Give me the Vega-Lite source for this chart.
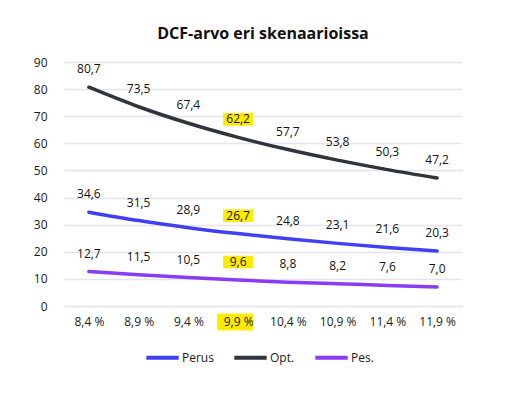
{
  "$schema": "https://vega.github.io/schema/vega-lite/v6.json",
  "autosize": {"type": "none"},
  "padding": {"left": 64, "top": 62, "right": 56, "bottom": 90},
  "width": 398,
  "height": 244,
  "background": "white",
  "config": {
    "font": "Open Sans",
    "locale": {"number": {"decimal": ",", "thousands": " ", "grouping": [3], "currency": ["", " €"]}},
    "view": {"stroke": null},
    "axis": {"labelFont": "Open Sans", "labelFontSize": 12, "labelColor": "#1a1a1a"}
  },
  "title": {
    "text": "DCF-arvo eri skenaarioissa",
    "font": "Open Sans",
    "fontSize": 16,
    "fontWeight": "bold",
    "color": "#111111",
    "anchor": "middle",
    "offset": 14
  },
  "data": {
    "values": [
      {"rate": "8,4 %", "scenario": "Perus", "value": 34.6},
      {"rate": "8,9 %", "scenario": "Perus", "value": 31.5},
      {"rate": "9,4 %", "scenario": "Perus", "value": 28.9},
      {"rate": "9,9 %", "scenario": "Perus", "value": 26.7},
      {"rate": "10,4 %", "scenario": "Perus", "value": 24.8},
      {"rate": "10,9 %", "scenario": "Perus", "value": 23.1},
      {"rate": "11,4 %", "scenario": "Perus", "value": 21.6},
      {"rate": "11,9 %", "scenario": "Perus", "value": 20.3},
      {"rate": "8,4 %", "scenario": "Opt.", "value": 80.7},
      {"rate": "8,9 %", "scenario": "Opt.", "value": 73.5},
      {"rate": "9,4 %", "scenario": "Opt.", "value": 67.4},
      {"rate": "9,9 %", "scenario": "Opt.", "value": 62.2},
      {"rate": "10,4 %", "scenario": "Opt.", "value": 57.7},
      {"rate": "10,9 %", "scenario": "Opt.", "value": 53.8},
      {"rate": "11,4 %", "scenario": "Opt.", "value": 50.3},
      {"rate": "11,9 %", "scenario": "Opt.", "value": 47.2},
      {"rate": "8,4 %", "scenario": "Pes.", "value": 12.7},
      {"rate": "8,9 %", "scenario": "Pes.", "value": 11.5},
      {"rate": "9,4 %", "scenario": "Pes.", "value": 10.5},
      {"rate": "9,9 %", "scenario": "Pes.", "value": 9.6},
      {"rate": "10,4 %", "scenario": "Pes.", "value": 8.8},
      {"rate": "10,9 %", "scenario": "Pes.", "value": 8.2},
      {"rate": "11,4 %", "scenario": "Pes.", "value": 7.6},
      {"rate": "11,9 %", "scenario": "Pes.", "value": 7.0}
    ]
  },
  "encoding": {
    "x": {
      "field": "rate",
      "type": "ordinal",
      "sort": null,
      "scale": {"type": "point", "padding": 0.5},
      "axis": {"title": null, "labelAngle": 0, "ticks": false, "domain": false, "labelPadding": 10, "zindex": 1}
    },
    "y": {
      "field": "value",
      "type": "quantitative",
      "scale": {"domain": [0, 90]},
      "axis": {"title": null, "values": [0,10,20,30,40,50,60,70,80,90], "ticks": false, "domain": false, "labelPadding": 17, "gridColor": "#e4e4ea", "gridWidth": 1.5}
    }
  },
  "layer": [
    {
      "mark": {"type": "line", "interpolate": "monotone", "strokeWidth": 3.5, "strokeCap": "round"},
      "encoding": {
        "color": {
          "field": "scenario",
          "type": "nominal",
          "scale": {"domain": ["Perus", "Opt.", "Pes."], "range": ["#4040f2", "#30353d", "#8a3cf2"]},
          "legend": {
            "title": null,
            "orient": "none",
            "legendX": 80,
            "legendY": 277,
            "direction": "horizontal",
            "symbolType": "stroke",
            "symbolSize": 1050,
            "symbolStrokeWidth": 4,
            "labelFont": "Open Sans",
            "labelFontSize": 12,
            "labelColor": "#1a1a1a",
            "labelOffset": 1,
            "columnPadding": 12
          }
        }
      }
    },
    {
      "transform": [{"filter": "datum.rate == '9,9 %'"}],
      "mark": {"type": "point", "shape": "M-1,-0.42H1V0.42H-1Z", "filled": true, "color": "#ffeb00", "opacity": 1, "size": 900, "yOffset": -18}
    },
    {
      "mark": {"type": "text", "baseline": "middle", "dy": -18, "fontSize": 12, "color": "#111111", "font": "Open Sans"},
      "encoding": {"text": {"field": "value", "type": "quantitative", "format": ".1f"}}
    },
    {
      "transform": [{"filter": "datum.rate == '9,9 %' && datum.scenario == 'Perus'"}],
      "mark": {"type": "point", "shape": "M-1,-0.47H1V0.47H-1Z", "filled": true, "color": "#ffeb00", "opacity": 1, "size": 1296, "xOffset": -3, "yOffset": 16},
      "encoding": {"y": {"datum": 0, "type": "quantitative"}}
    }
  ]
}
